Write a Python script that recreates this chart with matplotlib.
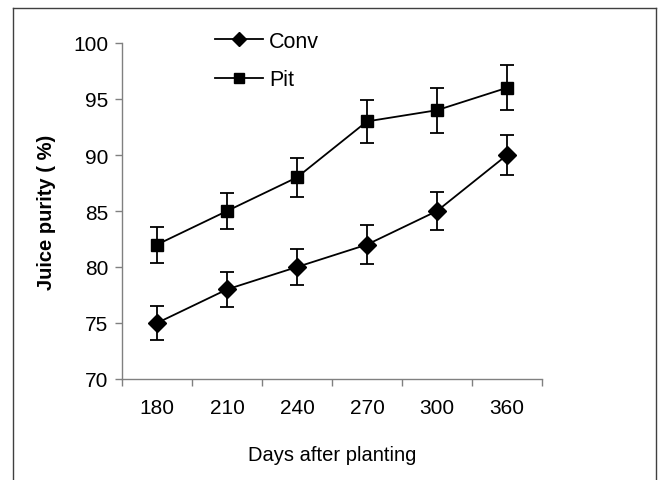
import matplotlib
matplotlib.use("Agg")
import matplotlib.pyplot as plt
from matplotlib.lines import Line2D
import numpy as np

days = ["180", "210", "240", "270", "300", "360"]
conv = [75, 78, 80, 82, 85, 90]
conv_err = [1.5, 1.55, 1.65, 1.75, 1.72, 1.8]
pit = [82, 85, 88, 93, 94, 96]
pit_err = [1.6, 1.57, 1.75, 1.9, 2.0, 2.0]
yticks = [70, 75, 80, 85, 90, 95, 100]

plt.rcParams['font.family'] = ['Liberation Sans', 'DejaVu Sans']

W, H = 659, 481
fig = plt.figure(figsize=(W / 100, H / 100), dpi=100)
ax = fig.add_axes([122 / W, 1 - 380 / H, (542 - 122) / W, (380 - 44) / H])

x = np.arange(len(days))
ax.errorbar(x, conv, yerr=conv_err, color='black', marker='D', markersize=9,
            linewidth=1.3, capsize=5, capthick=1.3, elinewidth=1.3, label='Conv')
ax.errorbar(x, pit, yerr=pit_err, color='black', marker='s', markersize=8,
            linewidth=1.3, capsize=5, capthick=1.3, elinewidth=1.3, label='Pit')

ax.set_xlim(-0.5, len(days) - 0.5)
ax.set_ylim(70, 100)
ax.set_yticks(yticks)
ax.set_xticks(x)
ax.set_xticklabels(days)
ax.set_xticks(np.arange(len(days) + 1) - 0.5, minor=True)
ax.tick_params(axis='x', which='major', length=0, pad=14, labelsize=15)
ax.tick_params(axis='x', which='minor', length=5, width=1, color='#808080', direction='out')
ax.tick_params(axis='y', length=5, width=1, color='#808080', direction='out', pad=5, labelsize=15)

for s in ['top', 'right']:
    ax.spines[s].set_visible(False)
for s in ['left', 'bottom']:
    ax.spines[s].set_color('#808080')
    ax.spines[s].set_linewidth(1)

ax.set_ylabel('Juice purity ( %)', fontsize=14.5, fontweight='bold', labelpad=12)
ax.set_xlabel('Days after planting', fontsize=14.5, labelpad=20)

handles = [Line2D([], [], color='black', marker='D', markersize=7, linewidth=1.3),
           Line2D([], [], color='black', marker='s', markersize=6.5, linewidth=1.3)]
fig.legend(handles, ['Conv', 'Pit'], loc='upper left',
           bbox_to_anchor=(215 / W, 1 - 32 / H), bbox_transform=fig.transFigure,
           frameon=False, fontsize=15.5, borderpad=0, borderaxespad=0,
           handlelength=2.23, handletextpad=0.28, labelspacing=0.8)

# figure border (top, left, right)
bc = '#404040'
fig.add_artist(Line2D([13 / W, 13 / W], [0, 1 - 9 / H], color=bc, linewidth=1, transform=fig.transFigure))
fig.add_artist(Line2D([13 / W, 656 / W], [1 - 9 / H, 1 - 9 / H], color=bc, linewidth=1, transform=fig.transFigure))
fig.add_artist(Line2D([656 / W, 656 / W], [0, 1 - 9 / H], color=bc, linewidth=1, transform=fig.transFigure))

fig.savefig('out.png', dpi=100)
